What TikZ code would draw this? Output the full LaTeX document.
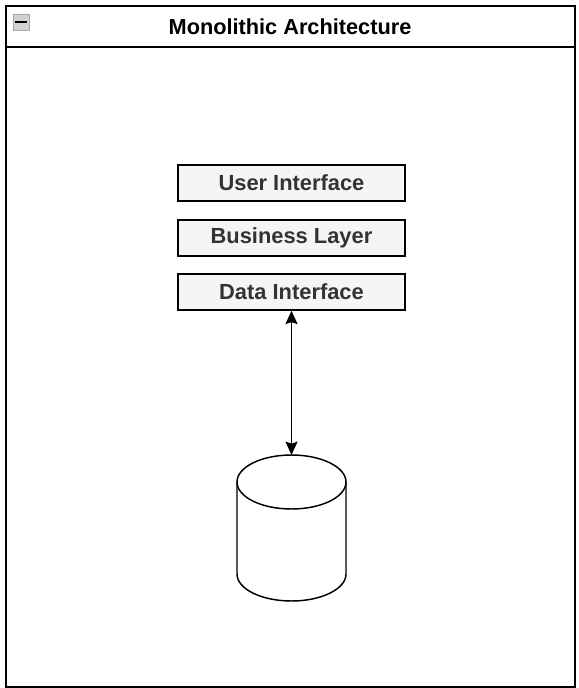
\documentclass[tikz,border=0pt]{standalone}
\usepackage{fontspec}
\setmainfont{Liberation Sans}
\usetikzlibrary{arrows.meta,shapes.geometric}
\definecolor{boxfill}{HTML}{F5F5F5}
\definecolor{boxtext}{HTML}{333333}
\tikzset{
  layerbox/.style={draw=black, fill=boxfill, line width=1.1pt, minimum width=227*0.75pt, minimum height=36*0.75pt, inner sep=0pt, text=boxtext, font=\fontsize{16.4}{19}\selectfont\bfseries},
  frameline/.style={draw=black, line width=1.1pt},
  conn/.style={draw=black, line width=1.4pt, {Stealth[length=10pt,width=9pt,inset=1.5pt]}-{Stealth[length=10pt,width=9pt,inset=1.5pt]}}
}
\begin{document}
\begin{tikzpicture}[x=0.75pt,y=-0.75pt]
\useasboundingbox (0,0) rectangle (578,688);
\fill[white] (0,0) rectangle (578,688);
% outer frame
\draw[frameline] (6,6) rectangle (575,687);
\draw[frameline] (6,47) -- (575,47);
% collapse icon
\node[draw=gray!70, fill=gray!35, minimum size=16*0.75pt, inner sep=0pt, line width=0.6pt] (icon) at (21,22) {};
\draw[line width=1.4pt] ([xshift=-4.5pt]icon.center) -- ([xshift=4.5pt]icon.center);
\node[font=\fontsize{16.3}{19}\selectfont\bfseries] (title) at (290,27) {Monolithic Architecture};
% layers
\node[layerbox] (ui) at (291.5,183) {User Interface};
\node[layerbox] (bl) at (291.5,238) {Business Layer};
\node[layerbox] (di) at (291.5,292) {Data Interface};
% database cylinder
\coordinate (dbtop) at (291.5,455);
\draw[line width=1.1pt, fill=white]
  (237,482) -- (237,574) arc[start angle=180, end angle=360, x radius=54.5, y radius=-27] -- (346,482)
  arc[start angle=0, end angle=180, x radius=54.5, y radius=-27] -- cycle;
\draw[line width=1.1pt] (237,482) arc[start angle=180, end angle=360, x radius=54.5, y radius=-27];
% connector
\draw[conn] (di.south) -- (dbtop);
\end{tikzpicture}
\end{document}
